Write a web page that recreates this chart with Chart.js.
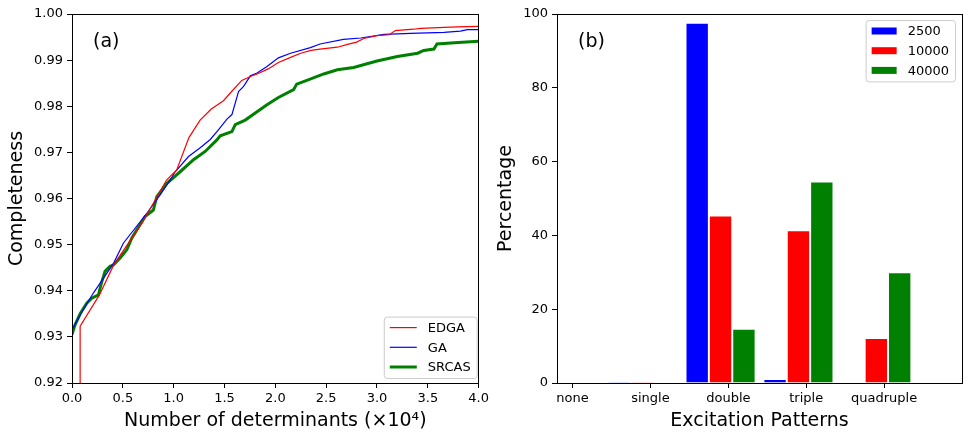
<!DOCTYPE html>
<html>
<head>
<meta charset="utf-8">
<script src="https://cdn.jsdelivr.net/npm/chart.js@4.4.0/dist/chart.umd.min.js"></script>
<style>
  body { margin: 0; background: #fff; }
  #wrap { position: relative; width: 977px; height: 440px; }
  canvas { position: absolute; top: 0; }
  #chartA { left: 0; }
  #chartB { left: 490px; }
</style>
</head>
<body>
<div id="wrap">
  <canvas id="chartA" width="492" height="440"></canvas>
  <canvas id="chartB" width="487" height="440"></canvas>
</div>
<script>
// (a) completeness vs number of determinants (x in units of 10^4)
const edgaX = [0.08, 0.08, 0.27, 0.41, 0.69, 0.93, 1.03, 1.15, 1.26, 1.37, 1.49, 1.57, 1.67, 1.75, 1.82, 1.93, 2.03, 2.15, 2.25, 2.35, 2.44, 2.61, 2.71, 2.80, 2.87, 3.00, 3.12, 3.18, 3.36, 3.43, 3.66, 3.79, 4.0];
const edgaY = [0.92, 0.9323, 0.9391, 0.9456, 0.9547, 0.9640, 0.9662, 0.9732, 0.9770, 0.9794, 0.9812, 0.9832, 0.9856, 0.9864, 0.9870, 0.9881, 0.9895, 0.9906, 0.9915, 0.9921, 0.9924, 0.9928, 0.9934, 0.9939, 0.9947, 0.9953, 0.9955, 0.9964, 0.9967, 0.9969, 0.9971, 0.9972, 0.9973];

const gaX = [0, 0.1, 0.21, 0.41, 0.505, 0.736, 0.867, 0.966, 1.015, 1.146, 1.261, 1.36, 1.44, 1.524, 1.573, 1.638, 1.688, 1.754, 1.82, 1.918, 2.03, 2.15, 2.345, 2.44, 2.67, 2.84, 3.07, 3.33, 3.66, 3.82, 3.89, 4.0];
const gaY = [0.9315, 0.9355, 0.9395, 0.946, 0.9503, 0.9568, 0.9608, 0.9640, 0.9658, 0.9691, 0.9710, 0.9728, 0.9749, 0.9772, 0.9782, 0.9832, 0.9843, 0.9866, 0.9872, 0.9886, 0.9905, 0.9915, 0.9927, 0.9935, 0.9945, 0.9948, 0.9956, 0.9958, 0.9960, 0.9963, 0.9966, 0.9966];

const srcasX = [0, 0.03, 0.08, 0.145, 0.194, 0.26, 0.29, 0.325, 0.374, 0.407, 0.473, 0.539, 0.588, 0.637, 0.719, 0.80, 0.834, 0.933, 1.064, 1.195, 1.31, 1.425, 1.458, 1.573, 1.606, 1.704, 1.82, 1.918, 2.03, 2.18, 2.21, 2.31, 2.476, 2.61, 2.77, 3.0, 3.2, 3.40, 3.46, 3.56, 3.59, 3.8, 4.0];
const srcasY = [0.9305, 0.9326, 0.9350, 0.9373, 0.9384, 0.9391, 0.9417, 0.9442, 0.9453, 0.9456, 0.9471, 0.9489, 0.9514, 0.9532, 0.9561, 0.9575, 0.9604, 0.9633, 0.9658, 0.9684, 0.9702, 0.9727, 0.9736, 0.9745, 0.9760, 0.9770, 0.9788, 0.9803, 0.9819, 0.9836, 0.9848, 0.9856, 0.9870, 0.9879, 0.9884, 0.9898, 0.9908, 0.9915, 0.9921, 0.9924, 0.9935, 0.9938, 0.9941];

// (b) excitation patterns, percentage
const categories = ['none', 'single', 'double', 'triple', 'quadruple'];
const barLabels = ['2500', '10000', '40000'];
const s2500 = [0, 0.3, 97.6, 1.1, 0];
const s10000 = [0, 0.3, 45.4, 41.4, 12.2];
const s40000 = [0, 0, 14.7, 54.6, 30.0];
const barColors = ['#0000ff', '#ff0000', '#008000'];
const tickShift = 0.1;

const FONT = "'DejaVu Sans', sans-serif";
Chart.defaults.font.family = FONT;
Chart.defaults.color = '#000';

function toPoints(xs, ys) {
    return xs.map((x, i) => ({ x: x, y: ys[i] }));
}

// frame, panel letter and a matplotlib-like legend box
const panelDecor = {
    id: 'panelDecor',
    afterDraw(chart, args, opts) {
        const ctx = chart.ctx;
        const a = chart.chartArea;
        ctx.save();
        ctx.strokeStyle = '#000';
        ctx.lineWidth = 1;
        const l = Math.floor(a.left) + 0.5, t = Math.floor(a.top) + 0.5;
        ctx.strokeRect(l, t, Math.floor(a.right) - Math.floor(a.left), Math.floor(a.bottom) - Math.floor(a.top));

        ctx.font = '19px ' + FONT;
        ctx.fillStyle = '#000';
        ctx.textBaseline = 'middle';
        ctx.fillText(opts.letter, a.left + 21, a.top + 28);

        const items = chart.data.datasets;
        ctx.font = '13px ' + FONT;
        const textW = Math.max(...items.map(d => ctx.measureText(d.label).width));
        const pad = 6, gap = 11, rowH = 19.7, first = 11;
        const boxW = pad + opts.sampleW + gap + textW + pad;
        const boxH = first * 2 + rowH * (items.length - 1);
        const bx = a.right - opts.dx - boxW;
        const by = opts.corner === 'top' ? a.top + opts.dy : a.bottom - opts.dy - boxH;

        ctx.beginPath();
        ctx.roundRect(bx + 0.5, by + 0.5, boxW, boxH, 3);
        ctx.fillStyle = 'rgba(255,255,255,0.8)';
        ctx.fill();
        ctx.strokeStyle = '#cccccc';
        ctx.stroke();

        items.forEach((d, i) => {
            const cy = by + first + rowH * i;
            const sx = bx + pad;
            if (opts.kind === 'line') {
                ctx.beginPath();
                ctx.moveTo(sx, cy);
                ctx.lineTo(sx + opts.sampleW, cy);
                ctx.strokeStyle = d.borderColor;
                ctx.lineWidth = d.borderWidth;
                ctx.stroke();
            } else {
                ctx.fillStyle = d.backgroundColor;
                ctx.fillRect(sx, cy - 3.5, opts.sampleW, 7);
            }
            ctx.fillStyle = '#000';
            ctx.fillText(d.label, sx + opts.sampleW + gap, cy + 1);
        });
        ctx.restore();
    }
};

const axisGrid = { drawOnChartArea: false, offset: false, color: '#000', tickLength: 5, tickWidth: 1 };
const axisBorder = { color: '#000', width: 1 };

new Chart(document.getElementById('chartA'), {
    type: 'line',
    data: {
        datasets: [
            { label: 'EDGA', data: toPoints(edgaX, edgaY), borderColor: '#ff0000', borderWidth: 1.2 },
            { label: 'GA', data: toPoints(gaX, gaY), borderColor: '#0000ff', borderWidth: 1.2 },
            { label: 'SRCAS', data: toPoints(srcasX, srcasY), borderColor: '#008000', borderWidth: 3 }
        ]
    },
    options: {
        responsive: false,
        animation: false,
        elements: { point: { radius: 0 }, line: { tension: 0, fill: false } },
        layout: { padding: { left: 0, right: 12, top: 14, bottom: 0 } },
        plugins: {
            legend: { display: false },
            tooltip: { enabled: false },
            panelDecor: { letter: '(a)', kind: 'line', sampleW: 27, corner: 'bottom', dx: 2, dy: 5 }
        },
        scales: {
            x: {
                type: 'linear', min: 0, max: 4,
                ticks: { stepSize: 0.5, callback: v => v.toFixed(1), font: { size: 13 }, padding: 3, maxRotation: 0, autoSkip: false },
                grid: axisGrid, border: axisBorder,
                title: { display: true, text: 'Number of determinants (×10⁴)', font: { size: 19 }, padding: { top: 0, bottom: 8 } },
                afterFit: s => { s.height = 57; }
            },
            y: {
                min: 0.92, max: 1.0,
                ticks: { stepSize: 0.01, callback: v => v.toFixed(2), font: { size: 13 }, padding: 4, autoSkip: false },
                grid: axisGrid, border: axisBorder,
                title: { display: true, text: 'Completeness', font: { size: 19 }, padding: { top: 6, bottom: 0 } },
                afterFit: s => { s.width = 72; }
            }
        }
    },
    plugins: [panelDecor]
});

const barSeries = [s2500, s10000, s40000];

new Chart(document.getElementById('chartB'), {
    type: 'bar',
    data: {
        datasets: barLabels.map((lab, s) => ({
            label: lab,
            data: categories.map((c, i) => ({ x: i, y: barSeries[s][i] })),
            backgroundColor: barColors[s],
            borderColor: '#ffffff',
            borderWidth: 1,
            categoryPercentage: 0.9,
            barPercentage: 1
        }))
    },
    options: {
        responsive: false,
        animation: false,
        layout: { padding: { left: 0, right: 15, top: 14, bottom: 0 } },
        plugins: {
            legend: { display: false },
            tooltip: { enabled: false },
            panelDecor: { letter: '(b)', kind: 'bar', sampleW: 25, corner: 'top', dx: 7, dy: 6 }
        },
        scales: {
            x: {
                type: 'linear', offset: false, min: -0.1, max: 5.1,
                afterBuildTicks: s => { s.ticks = categories.map((c, i) => ({ value: i + tickShift })); },
                ticks: { callback: (v, i) => categories[i], font: { size: 13 }, padding: 3, maxRotation: 0, autoSkip: false },
                grid: axisGrid, border: axisBorder,
                title: { display: true, text: 'Excitation Patterns', font: { size: 19 }, padding: { top: 0, bottom: 8 } },
                afterFit: s => { s.height = 57; }
            },
            y: {
                min: 0, max: 100,
                ticks: { stepSize: 20, font: { size: 13 }, padding: 4 },
                grid: axisGrid, border: axisBorder,
                title: { display: true, text: 'Percentage', font: { size: 19 }, padding: { top: 5, bottom: 0 } },
                afterFit: s => { s.width = 67; }
            }
        }
    },
    plugins: [panelDecor]
});
</script>
</body>
</html>
